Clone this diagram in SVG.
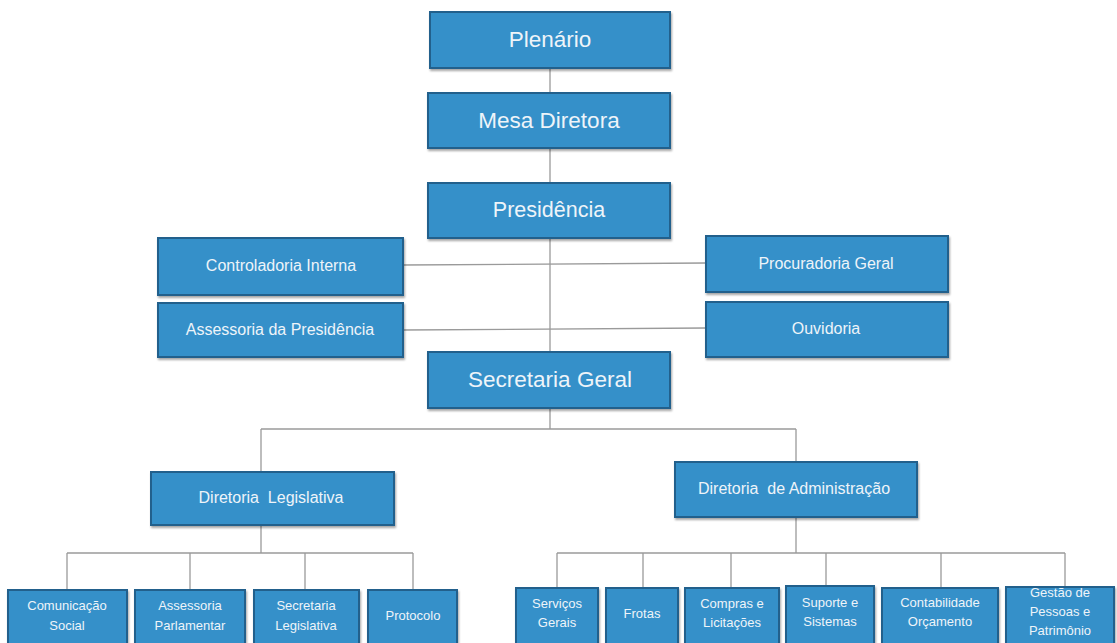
<svg xmlns="http://www.w3.org/2000/svg" width="1117" height="643" viewBox="0 0 1117 643">
<defs>
<filter id="sh" x="-10%" y="-10%" width="120%" height="130%"><feDropShadow dx="1" dy="2" stdDeviation="1.2" flood-color="#000" flood-opacity="0.35"/></filter>
</defs>
<style>
.box{fill:#3590c9;stroke:#23618c;stroke-width:2;filter:url(#sh)}
.t{fill:#eef4f9;font-family:"Liberation Sans",Arial,sans-serif;text-anchor:middle;dominant-baseline:middle;white-space:pre}
.l{fill:none;stroke:#9a9a9a;stroke-width:1.3}
.big{font-size:22.5px}
.mid{font-size:16px}
.sm{font-size:13px}
</style>
<rect width="1117" height="643" fill="#ffffff"/>
<g id="connectors">
<path class="l" d="M550 68V352M550 408V429M261 429H796M261 429V472M796 429V462"/>
<path class="l" d="M403 265L706 263M403 330L706 328"/>
<path class="l" d="M261 525V553M67 553H413M67 553V590M190 553V590M305 553V590M413 553V590"/>
<path class="l" d="M796 517V553M557 553H1065M557 553V588M643 553V588M731 553V588M826 553V586M941 553V588M1065 553V587"/>
</g>
<g id="plenario"><rect class="box" x="430" y="12" width="240" height="56"/><text class="t big" x="550" y="41">Plenário</text></g>
<g id="mesa"><rect class="box" x="428" y="93" width="242" height="55"/><text class="t big" x="549" y="122">Mesa Diretora</text></g>
<g id="presidencia"><rect class="box" x="428" y="183" width="242" height="55"/><text class="t" x="549" y="211" font-size="21.5">Presidência</text></g>
<g id="controladoria"><rect class="box" x="158" y="238" width="245" height="57"/><text class="t mid" x="281" y="267">Controladoria Interna</text></g>
<g id="procuradoria"><rect class="box" x="706" y="236" width="242" height="56"/><text class="t mid" x="826" y="265">Procuradoria Geral</text></g>
<g id="assessoria-pres"><rect class="box" x="158" y="303" width="245" height="54"/><text class="t mid" x="280" y="331">Assessoria da Presidência</text></g>
<g id="ouvidoria"><rect class="box" x="706" y="302" width="242" height="55"/><text class="t mid" x="826" y="330">Ouvidoria</text></g>
<g id="secretaria-geral"><rect class="box" x="428" y="352" width="242" height="56"/><text class="t big" x="550" y="381">Secretaria Geral</text></g>
<g id="dir-legislativa"><rect class="box" x="151" y="472" width="243" height="53"/><text class="t mid" x="271" y="499">Diretoria  Legislativa</text></g>
<g id="dir-administracao"><rect class="box" x="675" y="462" width="242" height="55"/><text class="t mid" x="794" y="490">Diretoria  de Administração</text></g>
<g id="comunicacao"><rect class="box" x="8" y="590" width="119" height="60"/><text class="t sm" x="67" y="607">Comunicação</text><text class="t sm" x="67" y="627">Social</text></g>
<g id="assessoria-parl"><rect class="box" x="135" y="590" width="110" height="60"/><text class="t sm" x="190" y="607">Assessoria</text><text class="t sm" x="190" y="627">Parlamentar</text></g>
<g id="secretaria-leg"><rect class="box" x="254" y="590" width="105" height="60"/><text class="t sm" x="306" y="607">Secretaria</text><text class="t sm" x="306" y="627">Legislativa</text></g>
<g id="protocolo"><rect class="box" x="368" y="590" width="89" height="60"/><text class="t sm" x="413" y="617">Protocolo</text></g>
<g id="servicos"><rect class="box" x="516" y="588" width="82" height="62"/><text class="t sm" x="557" y="605">Serviços</text><text class="t sm" x="557" y="624">Gerais</text></g>
<g id="frotas"><rect class="box" x="606" y="588" width="72" height="62"/><text class="t sm" x="642" y="615">Frotas</text></g>
<g id="compras"><rect class="box" x="685" y="588" width="94" height="62"/><text class="t sm" x="732" y="605">Compras e</text><text class="t sm" x="732" y="624">Licitações</text></g>
<g id="suporte"><rect class="box" x="786" y="586" width="88" height="64"/><text class="t sm" x="830" y="604">Suporte e</text><text class="t sm" x="830" y="623">Sistemas</text></g>
<g id="contabilidade"><rect class="box" x="882" y="588" width="116" height="62"/><text class="t sm" x="940" y="604">Contabilidade</text><text class="t sm" x="940" y="623">Orçamento</text></g>
<g id="gestao"><rect class="box" x="1006" y="587" width="108" height="63"/><text class="t sm" x="1060" y="594">Gestão de</text><text class="t sm" x="1060" y="613">Pessoas e</text><text class="t sm" x="1060" y="632">Patrimônio</text></g>
</svg>
